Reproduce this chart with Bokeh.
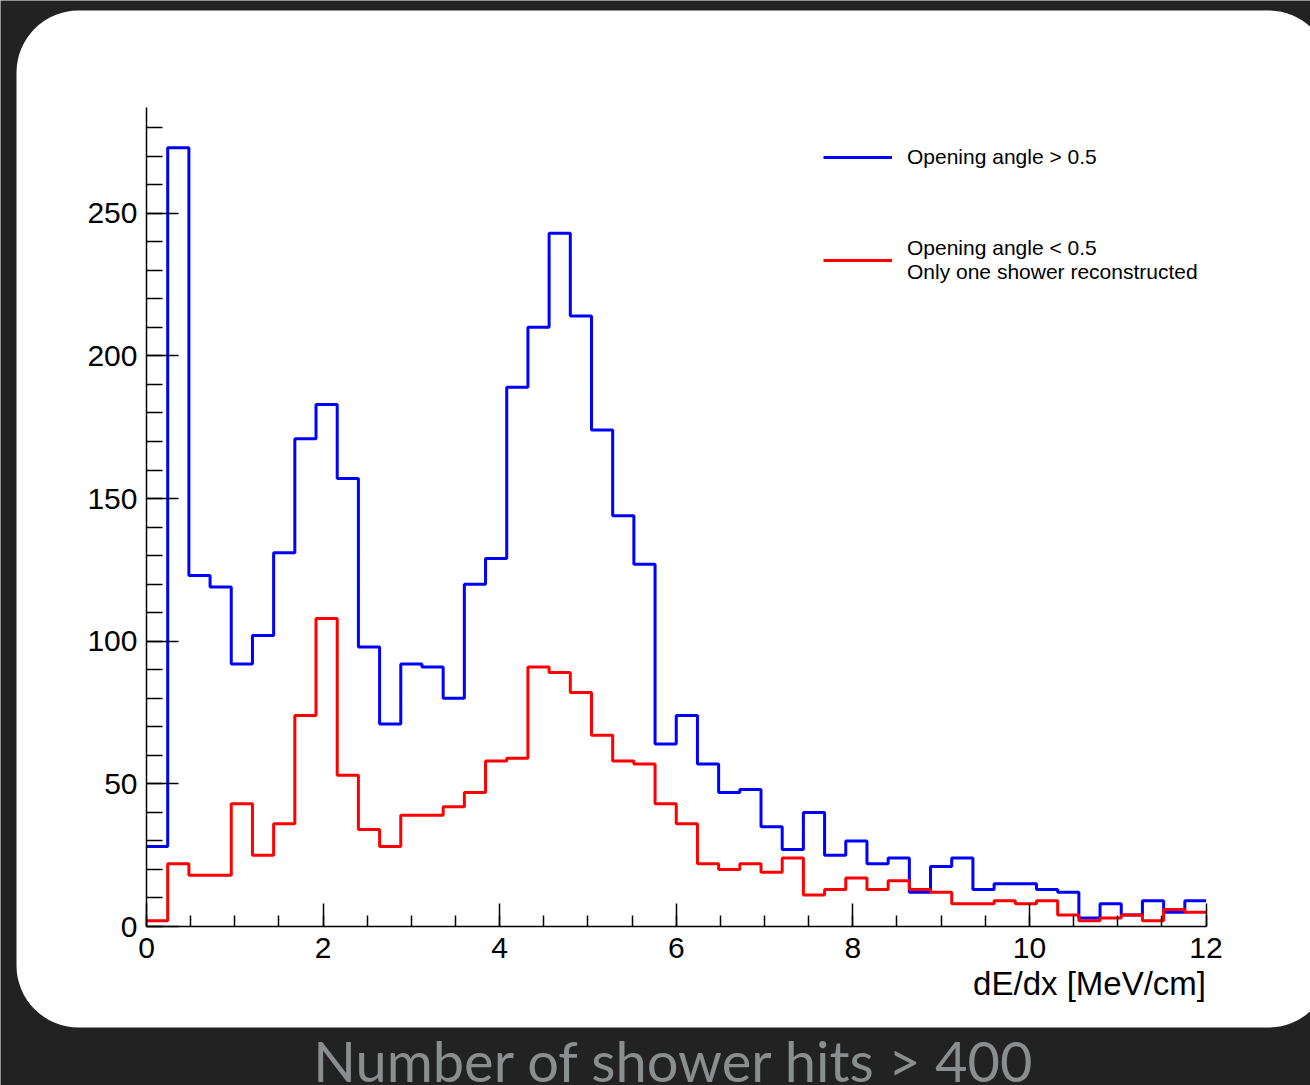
import numpy as np
from bokeh.plotting import figure
from bokeh.models import (Range1d, SingleIntervalTicker, BoxAnnotation, Label,
                          Legend, LegendItem)
from bokeh.embed import file_html
from bokeh.resources import INLINE

# dE/dx histogram: 50 bins of 0.24 MeV/cm between 0 and 12
bin_edges = np.linspace(0.0, 12.0, 51)

wide_angle_counts = [28, 273, 123, 119, 92, 102, 131, 171, 183, 157,
                     98, 71, 92, 91, 80, 120, 129, 189, 210, 243,
                     214, 174, 144, 127, 64, 74, 57, 47, 48, 35,
                     27, 40, 25, 30, 22, 24, 12, 21, 24, 13,
                     15, 15, 13, 12, 3, 8, 4, 9, 5, 9]

narrow_angle_counts = [2, 22, 18, 18, 43, 25, 36, 74, 108, 53,
                       34, 28, 39, 39, 42, 47, 58, 59, 91, 89,
                       82, 67, 58, 57, 43, 36, 22, 20, 22, 19,
                       24, 11, 13, 17, 13, 16, 13, 12, 8, 8,
                       9, 8, 9, 4, 2, 3, 4, 2, 6, 5]

wide_label = "Opening angle > 0.5"
narrow_label = "Opening angle < 0.5\nOnly one shower reconstructed"
x_title = "dE/dx [MeV/cm]"
caption = "Number of shower hits > 400"

W, H = 1310, 1085
# pixel placement of the axes inside the canvas
X0_PX, X12_PX = 146.0, 1205.5
Y0_PX, Y_PER_UNIT = 926.0, 2.853
x_scale = (X12_PX - X0_PX) / 12.0

p = figure(width=W, height=H, output_backend="svg", toolbar_location=None,
           min_border=0, min_border_left=0, min_border_right=0,
           min_border_top=0, min_border_bottom=0,
           x_range=Range1d(-X0_PX / x_scale, (W - X0_PX) / x_scale),
           y_range=Range1d(-(H - Y0_PX) / Y_PER_UNIT, Y0_PX / Y_PER_UNIT))
p.outline_line_color = None
p.background_fill_color = "#222222"
p.border_fill_color = "#222222"
p.grid.visible = False

# white rounded card behind the plot
card = BoxAnnotation(left=16, right=1330, top=H - 10, bottom=H - 1027,
                     left_units="screen", right_units="screen",
                     top_units="screen", bottom_units="screen",
                     fill_color="white", fill_alpha=1.0, line_color=None,
                     border_radius=62, level="underlay")
p.add_layout(card)

# axes drawn at the origin, ticks pointing inward
FONT = "Liberation Sans"
xa = p.xaxis[0]
xa.fixed_location = 0
xa.bounds = (0, 12)
xa.ticker = SingleIntervalTicker(interval=2, num_minor_ticks=4)
xa.major_tick_in = 23
xa.major_tick_out = 0
xa.minor_tick_in = 11
xa.minor_tick_out = 0
xa.major_label_standoff = 11

ya = p.yaxis[0]
ya.fixed_location = 0
ya.bounds = (0, 287)
ya.ticker = SingleIntervalTicker(interval=50, num_minor_ticks=5)
ya.major_tick_in = 32
ya.major_tick_out = 0
ya.minor_tick_in = 16
ya.minor_tick_out = 0
ya.major_label_standoff = 9

for ax in (xa, ya):
    ax.axis_line_color = "black"
    ax.axis_line_width = 1.5
    ax.major_tick_line_color = "black"
    ax.major_tick_line_width = 1.5
    ax.minor_tick_line_color = "black"
    ax.minor_tick_line_width = 1.5
    ax.major_label_text_font = FONT
    ax.major_label_text_font_size = "30px"
    ax.major_label_text_color = "black"

# histograms as step outlines
wide_y = list(wide_angle_counts) + [wide_angle_counts[-1]]
narrow_y = list(narrow_angle_counts) + [narrow_angle_counts[-1]]
r_wide = p.step(bin_edges, wide_y, mode="after", line_color="#0000ff", line_width=3)
r_narrow = p.step(bin_edges, narrow_y, mode="after", line_color="#ff0000", line_width=3)

legend = Legend(items=[LegendItem(label=wide_label, renderers=[r_wide]),
                       LegendItem(label=narrow_label, renderers=[r_narrow])],
                location=(823, 801), orientation="vertical",
                glyph_width=69, glyph_height=20, label_standoff=15,
                spacing=67, padding=0, margin=0,
                border_line_alpha=0, background_fill_alpha=0,
                label_text_font=FONT, label_text_font_size="21px",
                label_text_line_height=1.6,
                label_text_color="black")
p.add_layout(legend, "center")

p.add_layout(Label(x=12, y=H - 983, y_units="screen", text=x_title,
                   text_align="right", text_baseline="middle",
                   text_font=FONT, text_font_size="33px", text_color="black"))

p.add_layout(Label(x=674, y=25, x_units="screen", y_units="screen",
                   text=caption, text_align="center", text_baseline="middle",
                   text_font="Lato", text_font_size="56px",
                   text_color="#8a8e8e"))

open("out.html", "w").write(file_html(p, INLINE))
